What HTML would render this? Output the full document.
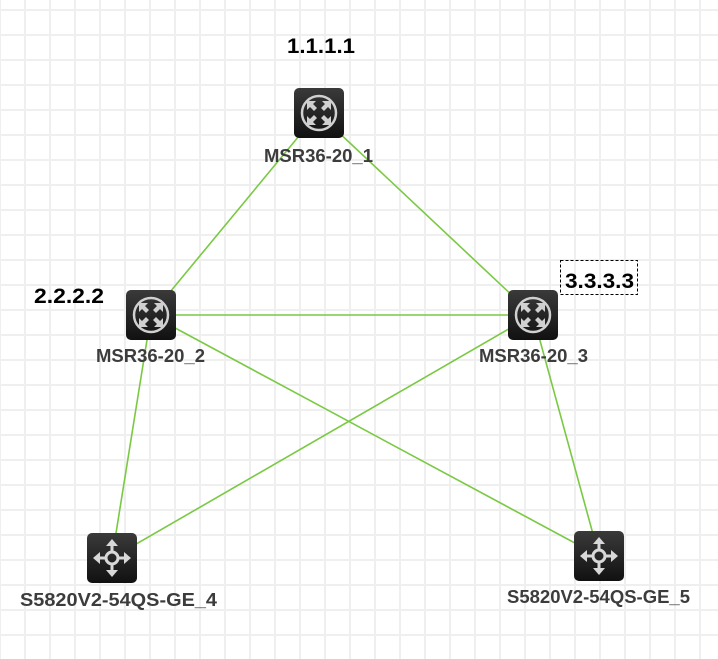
<!DOCTYPE html>
<html><head><meta charset="utf-8"><style>
html,body{margin:0;padding:0;background:#fff;}
svg{display:block;}
text{font-family:"Liberation Sans",Arial,sans-serif;font-weight:bold;}
</style></head><body>
<svg width="718" height="659" viewBox="0 0 718 659" xmlns="http://www.w3.org/2000/svg">
<defs>
<pattern id="g" x="24" y="9" width="25" height="25" patternUnits="userSpaceOnUse">
<rect x="0" y="0" width="2" height="25" fill="#efefef"/>
<rect x="0" y="0" width="25" height="2" fill="#efefef"/>
</pattern>
<linearGradient id="bg" x1="0" y1="0" x2="0" y2="1">
<stop offset="0" stop-color="#3a3a3a"/><stop offset="1" stop-color="#111"/>
</linearGradient>
<g id="router">
<rect x="0" y="0" width="50" height="50" rx="5" fill="url(#bg)"/>
<circle cx="25" cy="25" r="17" fill="none" stroke="#d0d0d0" stroke-width="2.5"/>
<g fill="#d0d0d0">
<polygon points="13,13 22,13 19,16 23,20 20,23 16,19 13,22"/>
<polygon points="37,13 28,13 31,16 27,20 30,23 34,19 37,22"/>
<polygon points="13,37 22,37 19,34 23,30 20,27 16,31 13,28"/>
<polygon points="37,37 28,37 31,34 27,30 30,27 34,31 37,28"/>
</g>
</g>
<g id="switch">
<rect x="0" y="0" width="50" height="50" rx="5" fill="url(#bg)"/>
<g fill="none" stroke="#d8d8d8" stroke-width="3">
<circle cx="25" cy="25" r="6"/>
<line x1="25" y1="10" x2="25" y2="19"/><line x1="25" y1="31" x2="25" y2="40"/>
<line x1="10" y1="25" x2="19" y2="25"/><line x1="31" y1="25" x2="40" y2="25"/>
</g>
<g fill="#d8d8d8">
<polygon points="25,6 19,13 31,13"/><polygon points="25,44 19,37 31,37"/>
<polygon points="6,25 13,19 13,31"/><polygon points="44,25 37,19 37,31"/>
</g>
</g>
</defs>
<rect width="718" height="659" fill="url(#g)"/>
<g stroke="#7ac943" stroke-width="1.6">
<line x1="318" y1="113" x2="151" y2="315"/>
<line x1="318" y1="113" x2="533" y2="315"/>
<line x1="151" y1="315" x2="533" y2="315"/>
<line x1="151" y1="315" x2="112" y2="558"/>
<line x1="151" y1="315" x2="599" y2="556"/>
<line x1="533" y1="315" x2="112" y2="558"/>
<line x1="533" y1="315" x2="599" y2="556"/>
</g>
<use href="#router" x="294" y="88"/>
<use href="#router" x="126" y="290"/>
<use href="#router" x="508" y="290"/>
<use href="#switch" x="87" y="533"/>
<use href="#switch" x="574" y="531"/>
<g fill="#3c3c3c" font-size="18">
<text x="264" y="162" textLength="109" lengthAdjust="spacingAndGlyphs">MSR36-20_1</text>
<text x="96" y="362" textLength="109" lengthAdjust="spacingAndGlyphs">MSR36-20_2</text>
<text x="479" y="362" textLength="109" lengthAdjust="spacingAndGlyphs">MSR36-20_3</text>
<text x="20" y="606" textLength="197" lengthAdjust="spacingAndGlyphs">S5820V2-54QS-GE_4</text>
<text x="507" y="603" textLength="183" lengthAdjust="spacingAndGlyphs">S5820V2-54QS-GE_5</text>
</g>
<g fill="#000" font-size="21">
<text x="287" y="53" textLength="68" lengthAdjust="spacingAndGlyphs">1.1.1.1</text>
<text x="34" y="303" textLength="70" lengthAdjust="spacingAndGlyphs">2.2.2.2</text>
<text x="565" y="288" textLength="69" lengthAdjust="spacingAndGlyphs">3.3.3.3</text>
</g>
<rect x="560.5" y="260.5" width="77" height="34" fill="none" stroke="#000" stroke-width="1" stroke-dasharray="3,2"/>
</svg>
</body></html>
